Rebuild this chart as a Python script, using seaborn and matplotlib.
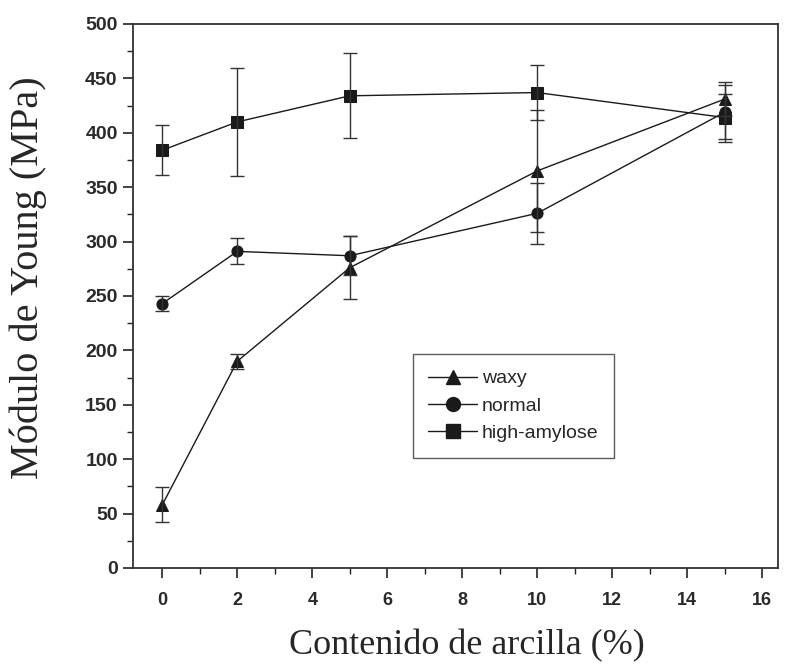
import matplotlib
matplotlib.use("Agg")
import matplotlib.pyplot as plt
from matplotlib.ticker import MultipleLocator
from matplotlib.lines import Line2D
import seaborn as sns
import pandas as pd

x_vals = [0, 2, 5, 10, 15]
series_names = ["waxy", "normal", "high-amylose"]
waxy = [58, 190, 276, 365, 431]
waxy_err = [16, 7, 29, 56, 16]
normal = [243, 291, 287, 326, 419]
normal_err = [7, 12, 18, 28, 25]
high_amylose = [384, 410, 434, 437, 414]
high_amylose_err = [23, 50, 39, 25, 22]
x_ticks = [0, 2, 4, 6, 8, 10, 12, 14, 16]
y_ticks = [0, 50, 100, 150, 200, 250, 300, 350, 400, 450, 500]

sns.set_theme(style="ticks")
plt.rcParams["font.family"] = ["Liberation Sans", "DejaVu Sans"]

values = [waxy, normal, high_amylose]
errs = [waxy_err, normal_err, high_amylose_err]
rows = []
for name, vals in zip(series_names, values):
    for xv, yv in zip(x_vals, vals):
        rows.append({"x": xv, "y": yv, "serie": name})
df = pd.DataFrame(rows)

fig = plt.figure(figsize=(7.87, 6.66), dpi=100)
ax = fig.add_axes([133 / 787, (666 - 568) / 666, 645 / 787, 544 / 666])

markers = {"waxy": "^", "normal": "o", "high-amylose": "s"}
col = "#1a1a1a"
sns.lineplot(data=df, x="x", y="y", hue="serie", style="serie",
             markers=markers, dashes=False, palette=[col] * 3,
             markersize=8, linewidth=1.0, ax=ax, legend=False,
             markeredgecolor=col)
for vals, e in zip(values, errs):
    ax.errorbar(x_vals, vals, yerr=e, fmt="none", ecolor="#333333",
                elinewidth=1.0, capsize=5, capthick=1.0)

ax.set_xlim(-0.78, 16.42)
ax.set_ylim(0, 500)
ax.set_xticks(x_ticks)
ax.set_yticks(y_ticks)
ax.xaxis.set_minor_locator(MultipleLocator(1))
ax.yaxis.set_minor_locator(MultipleLocator(25))
ax.tick_params(axis="both", which="major", direction="out", length=7, width=1.2,
               colors="#222222")
ax.tick_params(axis="x", which="major", labelsize=13, pad=10)
ax.tick_params(axis="y", which="major", labelsize=14, pad=4)
ax.tick_params(axis="both", which="minor", direction="out", length=4, width=1.0,
               colors="#222222")
for lab in ax.get_xticklabels() + ax.get_yticklabels():
    lab.set_fontweight("bold")
    lab.set_color("#2a2a2a")
for sp in ax.spines.values():
    sp.set_visible(True)
    sp.set_linewidth(1.3)
    sp.set_color("#333333")

ax.set_xlabel("Contenido de arcilla (%)", fontsize=26,
              family=["Liberation Serif", "DejaVu Serif"])
ax.set_ylabel("Módulo de Young (MPa)", fontsize=29,
              family=["Liberation Serif", "DejaVu Serif"])
ax.xaxis.set_label_coords(0.518, -0.113)
ax.yaxis.set_label_coords(-0.133, 0.533)

handles = [Line2D([0], [0], color=col, marker=markers[n], markersize=10, linewidth=1.0)
           for n in series_names]
leg = ax.legend(handles, series_names, loc="upper left", bbox_to_anchor=(0.434, 0.393),
                frameon=True, fancybox=False, edgecolor="#333333",
                handlelength=2.5, handletextpad=0.25, borderpad=0.8, labelspacing=0.5,
                borderaxespad=0,
                prop={"family": ["Liberation Sans Narrow", "Liberation Sans", "DejaVu Sans"],
                      "size": 14})
leg.get_frame().set_linewidth(1.0)

fig.savefig("out.png", dpi=100)
